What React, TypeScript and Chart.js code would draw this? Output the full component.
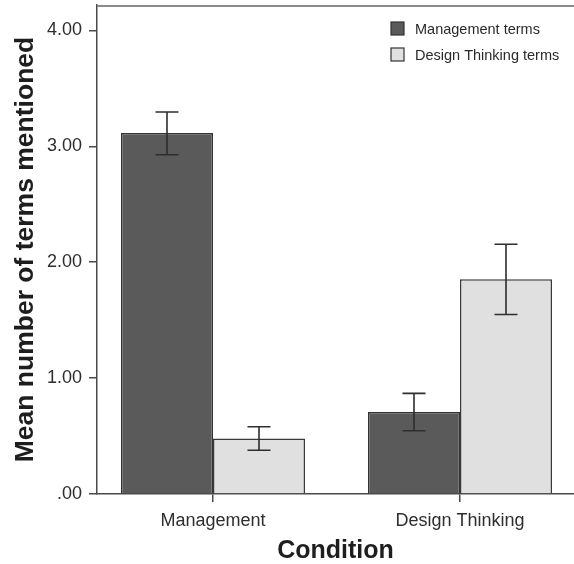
import React, { useEffect, useRef } from "react";
import { Chart, registerables } from "chart.js";

Chart.register(...registerables);

const categories = ["Management", "Design Thinking"];
const seriesNames = ["Management terms", "Design Thinking terms"];
const managementTerms = [3.115, 0.707];
const managementLower = [2.928, 0.546];
const managementUpper = [3.296, 0.868];
const designTerms = [0.48, 1.853];
const designLower = [0.377, 1.549];
const designUpper = [0.58, 2.155];
const yTickValues = [0, 1, 2, 3, 4];
const yTickLabels = [".00", "1.00", "2.00", "3.00", "4.00"];

const FONT = "'Liberation Sans', Arial, sans-serif";
const DARK = "#5a5a5a";
const LIGHT = "#e0e0e0";
const AXIS = "#4a4a4a";

const errorBars = {
  id: "errorBars",
  afterDatasetsDraw(chart: any) {
    const { ctx } = chart;
    const yScale = chart.scales.y;
    chart.data.datasets.forEach((ds: any, i: number) => {
      const meta = chart.getDatasetMeta(i);
      meta.data.forEach((bar: any, j: number) => {
        const x = bar.x;
        const yLo = yScale.getPixelForValue(ds.lower[j]);
        const yHi = yScale.getPixelForValue(ds.upper[j]);
        const half = 11.5;
        ctx.save();
        ctx.strokeStyle = "#2e2e2e";
        ctx.lineWidth = 1.6;
        ctx.beginPath();
        ctx.moveTo(x, yLo);
        ctx.lineTo(x, yHi);
        ctx.moveTo(x - half, yLo);
        ctx.lineTo(x + half, yLo);
        ctx.moveTo(x - half, yHi);
        ctx.lineTo(x + half, yHi);
        ctx.stroke();
        ctx.restore();
      });
    });
  },
};

const frameAndLegend = {
  id: "frameAndLegend",
  afterDraw(chart: any) {
    const { ctx, chartArea } = chart;
    ctx.save();
    ctx.strokeStyle = "#8a8a8a";
    ctx.lineWidth = 2;
    ctx.beginPath();
    ctx.moveTo(chartArea.left, chartArea.top + 1);
    ctx.lineTo(chartArea.right, chartArea.top + 1);
    ctx.stroke();

    const boxX = chartArea.right - 183;
    const rows = [chartArea.top + 24, chartArea.top + 50];
    chart.data.datasets.forEach((ds: any, i: number) => {
      const cy = rows[i];
      ctx.fillStyle = ds.backgroundColor;
      ctx.fillRect(boxX, cy - 7, 13, 13);
      ctx.strokeStyle = "#333";
      ctx.lineWidth = 1.2;
      ctx.strokeRect(boxX, cy - 7, 13, 13);
      ctx.fillStyle = "#2a2a2a";
      ctx.font = `14.5px ${FONT}`;
      ctx.textBaseline = "middle";
      ctx.textAlign = "left";
      ctx.fillText(ds.label, boxX + 24, cy + 1);
    });
    ctx.restore();
  },
};

const noPad = (scale: any) => {
  scale.paddingLeft = 0;
  scale.paddingRight = 0;
  scale.paddingTop = 0;
  scale.paddingBottom = 0;
};

export default function App() {
  const canvasRef = useRef<HTMLCanvasElement | null>(null);

  useEffect(() => {
    const canvas = canvasRef.current;
    if (!canvas) return;
    const chart = new Chart(canvas, {
      type: "bar",
      data: {
        datasets: [
          {
            label: seriesNames[0],
            data: managementTerms.map((v, i) => ({ x: i, y: v })),
            lower: managementLower,
            upper: managementUpper,
            backgroundColor: DARK,
            borderColor: "#333",
            borderWidth: 1.5,
          } as any,
          {
            label: seriesNames[1],
            data: designTerms.map((v, i) => ({ x: i, y: v })),
            lower: designLower,
            upper: designUpper,
            backgroundColor: LIGHT,
            borderColor: "#3a3a3a",
            borderWidth: 1.5,
          } as any,
        ],
      },
      options: {
        responsive: false,
        animation: false,
        devicePixelRatio: 1,
        layout: { padding: { top: 5, left: 0, right: 0, bottom: 0 } },
        datasets: {
          bar: { barPercentage: 1, categoryPercentage: 0.745 },
        },
        plugins: {
          legend: { display: false },
          tooltip: { enabled: false },
        },
        scales: {
          x: {
            type: "linear",
            offset: false,
            min: -0.4696,
            max: 1.4615,
            afterFit: (scale: any) => {
              scale.height = 70;
              noPad(scale);
            },
            afterBuildTicks: (scale: any) => {
              scale.ticks = categories.map((_, i) => ({ value: i }));
            },
            ticks: {
              callback: (v: any) => categories[v as number] ?? "",
              font: { family: FONT, size: 18 },
              color: "#2e2e2e",
              padding: 8,
              maxRotation: 0,
              autoSkip: false,
            },
            grid: {
              display: true,
              offset: false,
              drawOnChartArea: false,
              drawTicks: true,
              tickLength: 8,
              color: AXIS,
              lineWidth: 1.5,
            },
            border: { display: true, color: AXIS, width: 1.5 },
            title: {
              display: true,
              text: "Condition",
              font: { family: FONT, size: 25, weight: "bold" },
              color: "#1e1e1e",
              padding: { top: 0, bottom: -2 },
            },
          },
          y: {
            min: 0,
            max: 4.22,
            afterFit: (scale: any) => {
              scale.width = 97;
              noPad(scale);
            },
            afterBuildTicks: (scale: any) => {
              scale.ticks = yTickValues.map((v) => ({ value: v }));
            },
            ticks: {
              callback: (_v: any, idx: number) => yTickLabels[idx],
              font: { family: FONT, size: 18 },
              color: "#2e2e2e",
              padding: 7,
            },
            grid: {
              display: true,
              drawOnChartArea: false,
              drawTicks: true,
              tickLength: 8,
              color: AXIS,
              lineWidth: 1.5,
            },
            border: { display: true, color: AXIS, width: 1.5 },
            title: {
              display: true,
              text: "Mean number of terms mentioned",
              font: { family: FONT, size: 26.5, weight: "bold" },
              color: "#1e1e1e",
              padding: { top: 10, bottom: 0 },
            },
          },
        },
      } as any,
      plugins: [errorBars, frameAndLegend],
    });
    return () => chart.destroy();
  }, []);

  return (
    <div style={{ position: "absolute", left: 0, top: 0, width: 574, height: 564, background: "#fff" }}>
      <canvas ref={canvasRef} width={574} height={564} style={{ display: "block" }} />
    </div>
  );
}
